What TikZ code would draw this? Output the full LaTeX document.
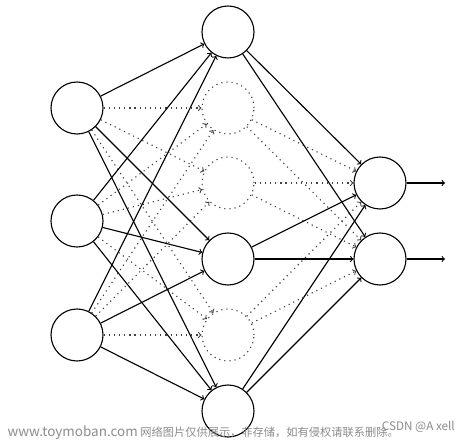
\documentclass[tikz,border=0pt]{standalone}
\usepackage{fontspec}
\newfontfamily\cjk{Noto Sans CJK SC}
\begin{document}
\begin{tikzpicture}[
  neuron/.style={draw, circle, minimum size=1.56cm, inner sep=0pt, line width=0.95pt},
  dropped/.style={neuron, draw=black!75, dash pattern=on 1pt off 3.4pt},
  link/.style={->, line width=0.95pt},
  droplink/.style={->, draw=black!75, dash pattern=on 1pt off 3.4pt, line width=0.95pt},
  mark text/.style={text=black!45, inner sep=0pt}
]
\useasboundingbox (0,0) rectangle (13.83,13.29);

% input layer
\foreach \i/\y in {1/10.05, 2/6.66, 3/3.24}
  \node[neuron] (in\i) at (2.31,\y) {};

% hidden layer, some units dropped
\foreach \i/\y/\s in {1/12.33/neuron, 2/10.05/dropped, 3/7.80/dropped,
                      4/5.52/neuron, 5/3.24/dropped, 6/0.96/neuron}
  \node[\s] (h\i) at (6.84,\y) {};

% output layer
\foreach \k/\y in {1/7.80, 2/5.52} {
  \node[neuron] (out\k) at (11.40,\y) {};
  \coordinate (y\k) at (13.35,\y);
}

% connections
\foreach \i in {1,2,3} {
  \foreach \j in {1,4,6}
    \draw[link] (in\i) -- (h\j);
  \foreach \j in {2,3,5}
    \draw[droplink] (in\i) -- (h\j);
}
\foreach \k in {1,2} {
  \foreach \j in {1,4,6}
    \draw[link] (h\j) -- (out\k);
  \foreach \j in {2,3,5}
    \draw[droplink] (h\j) -- (out\k);
  \draw[link] (out\k) -- (y\k);
}

% watermark
\node[mark text, anchor=west, font=\cjk\fontsize{9.6}{12}\selectfont] (wm) at (0.22,0.30)
  {{\fontsize{11.5}{12}\selectfont www.toymoban.com} 网络图片仅供展示，非存储，如有侵权请联系删除。};
\node[mark text, anchor=east, font=\cjk\fontsize{10}{12}\selectfont] (csdn) at (13.65,0.48)
  {CSDN @A xell};
\end{tikzpicture}
\end{document}
